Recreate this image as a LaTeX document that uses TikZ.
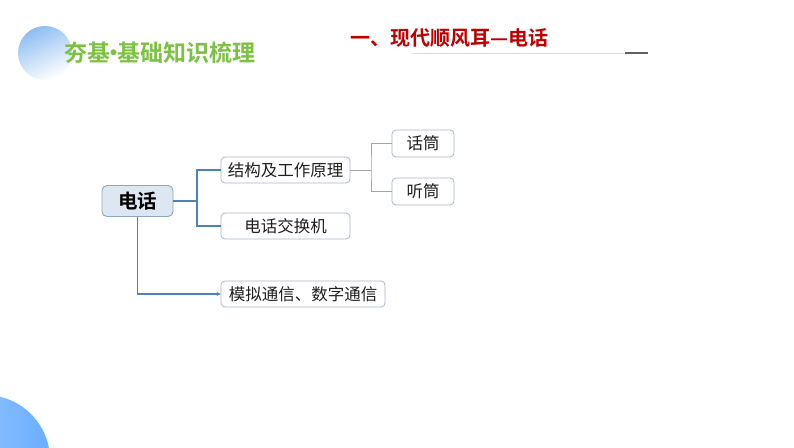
\documentclass[tikz,border=0pt]{standalone}
\usepackage{fontspec}
\newfontfamily\cjk{Noto Sans CJK SC}
\newfontfamily\cjkb{Noto Sans CJK SC Bold}
\usetikzlibrary{arrows.meta}
\definecolor{titlegreen}{HTML}{7CC242}
\definecolor{titlered}{HTML}{C00000}
\definecolor{boxline}{HTML}{A9B8C8}
\definecolor{rootfill}{HTML}{DCE7F3}
\definecolor{rootline}{HTML}{8BA7C4}
\definecolor{linkblue}{HTML}{4F82B8}
\definecolor{linkgray}{HTML}{A6A6A6}
\definecolor{txt}{HTML}{1F1F1F}
\definecolor{circtop}{HTML}{8EBDF2}
\definecolor{circbot}{HTML}{6AAEFF}
\tikzset{
  leaf/.style={draw=boxline, line width=0.8pt, rounded corners=4pt, fill=white, inner sep=0pt, font=\cjk\fontsize{16.5}{18}\selectfont, text=txt},
  rootbox/.style={draw=rootline, line width=0.9pt, rounded corners=5pt, fill=rootfill, inner sep=0pt, font=\cjkb\fontsize{19.5}{21}\selectfont, text=black},
  bluelink/.style={draw=linkblue, line width=1.8pt},
  graylink/.style={draw=linkgray, line width=0.8pt},
}
\begin{document}
\begin{tikzpicture}[x=1pt,y=-1pt]
\useasboundingbox (0,0) rectangle (794,447);
\fill[white] (0,0) rectangle (794,447);
% decorative circles
\shade[top color=circtop, bottom color=white, shading angle=25] (45,53) circle (27);
\begin{scope}
\clip (0,0) rectangle (794,447);
\shade[left color=circbot!60, right color=circbot] (-15,460) circle (65);
\end{scope}
% titles
\node[anchor=west, inner sep=0pt, text=titlegreen, font=\cjkb\fontsize{23}{25}\selectfont] (t1) at (64,53) {夯基\hspace{-8pt}·\hspace{-8pt}基础知识梳理};
\node[anchor=west, inner sep=0pt, text=titlered, font=\cjkb\fontsize{20}{22}\selectfont] (t2) at (350,38) {一、现代顺风耳—电话};
\coordinate (l1) at (413,53);
\coordinate (l2) at (625,53);
\coordinate (l3) at (648,53);
\draw[gray!30, line width=0.8pt] (l1) -- (l2);
\draw[gray!75!black, line width=1.6pt] (l2) -- (l3);
% mind map nodes
\node[rootbox, minimum width=71pt, minimum height=31pt] (root) at (137.5,201) {电话};
\node[leaf, minimum width=129pt, minimum height=26pt] (a) at (285.5,170) {结构及工作原理};
\node[leaf, minimum width=129pt, minimum height=26pt] (b) at (285.5,226) {电话交换机};
\node[leaf, minimum width=164pt, minimum height=26pt] (c) at (303,294) {模拟通信、数字通信};
\node[leaf, minimum width=62pt, minimum height=27pt] (a1) at (423,143.5) {话筒};
\node[leaf, minimum width=62pt, minimum height=27pt] (a2) at (423,191.5) {听筒};
% connectors
\coordinate (j1) at (197,201);
\draw[bluelink] (root.east) -- (j1);
\draw[bluelink] (a.west) -| (j1) |- (b.west);
\draw[draw=linkblue, line width=1.3pt, -{Stealth[length=4pt,width=4pt]}] (root.south) |- (c.west);
\coordinate (j2) at (371,170);
\draw[graylink] (a.east) -- (j2);
\draw[graylink] (a1.west) -| (j2) |- (a2.west);
\end{tikzpicture}
\end{document}
